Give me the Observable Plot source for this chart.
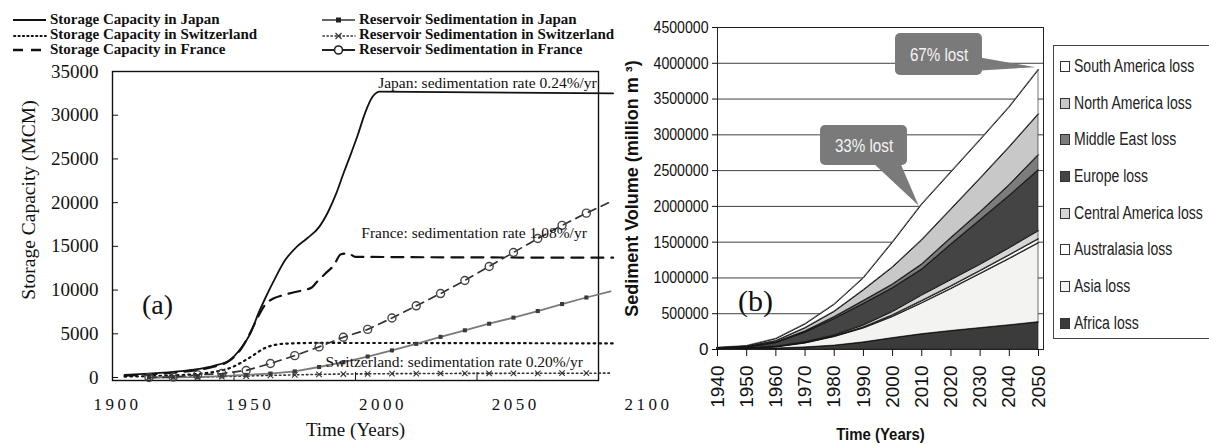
<!DOCTYPE html>
<html><head><meta charset="utf-8">
<script src="https://cdn.jsdelivr.net/npm/d3@7"></script>
<script src="https://cdn.jsdelivr.net/npm/@observablehq/plot@0.6"></script>
<style>
html,body{margin:0;padding:0;background:#fff;}
#wrap{position:relative;width:1209px;height:446px;overflow:hidden;background:#fff;}
#wrap > svg{position:absolute;top:0;}
.legA{position:absolute;font-family:"Liberation Serif","Times New Roman",serif;font-weight:bold;font-size:15px;color:#111;white-space:nowrap;line-height:15px;}
.legA svg{position:absolute;top:0;}
.legB{position:absolute;left:1053px;top:45px;width:170px;height:294px;border:1px solid #444;background:#fff;box-sizing:border-box;}
.legB .it{position:absolute;left:6px;font-family:"Liberation Sans",Arial,sans-serif;font-size:18px;color:#222;white-space:nowrap;line-height:20px;}
.legB .sw{display:inline-block;width:8px;height:9px;border:1px solid #333;margin-right:4px;vertical-align:0px;}
.legB .t{display:inline-block;transform:scaleX(0.78);transform-origin:left center;}
</style></head><body><div id="wrap"></div>
<script>
// ---------------- Panel (a) data ----------------
const jpStorageYears = [1905,1915,1925,1935,1942,1948,1953,1957,1960,1963,1967,1971,1976,1980,1985,1989,1992,1995,1998,2001,2004,2007,2010,2106];
const jpStorageMCM   = [300,450,650,950,1370,1950,3400,5200,7300,9150,11400,13400,15000,15900,17200,19100,21000,23300,25500,27800,30300,32100,32700,32500];
const chStorageYears = [1905,1920,1935,1942,1949,1956,1963,1970,1983,2106];
const chStorageMCM   = [100,200,400,650,1150,2200,3400,3850,3950,3900];
const frStorageYears = [1905,1915,1925,1935,1942,1948,1953,1957,1960,1963,1966,1970,1974,1978,1982,1984,1988,1991,1994,1997,2000,2106];
const frStorageMCM   = [200,350,550,850,1250,1900,3300,5300,7000,8400,9000,9400,9700,9950,10300,10900,12000,12800,14100,14200,13800,13700];
const sedYears = [1915,1925,1935,1945,1955,1965,1975,1985,1995,2005,2015,2025,2035,2045,2055,2065,2075,2085,2095,2105];
const jpSedMCM = [0,20,50,150,300,450,700,1200,1750,2400,3100,3850,4650,5400,6150,6850,7600,8400,9150,9850];
const chSedMCM = [0,20,50,100,170,240,300,360,400,420,440,450,460,470,470,480,480,490,490,500];
const frSedMCM = [0,50,300,450,800,1600,2500,3500,4600,5500,6800,8200,9600,11100,12700,14300,15900,17400,18800,20100];
const aXTicks = [1900,1950,2000,2050,2100];
const aYTicks = [0,5000,10000,15000,20000,25000,30000,35000];
const aNoteText = ["Japan: sedimentation rate 0.24%/yr","France: sedimentation rate 1.08%/yr","Switzerland: sedimentation rate 0.20%/yr"];
const aNoteYear = [2099.3,2095.2,2093.6];
const aNoteMCM  = [33630,16470,1716];
const aTag = ["(a)"], aTagYear = [1918.5], aTagMCM = [8235];

// ---------------- Panel (b) data ----------------
const bYears = [1940,1950,1960,1970,1980,1990,2000,2010,2020,2030,2040,2050];
const bYTicks = [0,500000,1000000,1500000,2000000,2500000,3000000,3500000,4000000,4500000];
const regions = ["Africa loss","Asia loss","Australasia loss","Central America loss","Europe loss","Middle East loss","North America loss","South America loss"];
const africaLoss      = [4000,8000,15000,30000,55000,100000,160000,215000,260000,300000,340000,383000];
const asiaLoss        = [4000,8000,20000,60000,125000,200000,300000,435000,590000,760000,930000,1107000];
const australasiaLoss = [1000,1000,3000,5000,8000,10000,20000,30000,35000,40000,50000,55000];
const centralAmLoss   = [1000,2000,4000,10000,12000,30000,50000,80000,90000,90000,100000,115000];
const europeLoss      = [5000,11000,53000,135000,230000,300000,330000,360000,495000,620000,730000,850000];
const middleEastLoss  = [2000,3000,8000,15000,25000,40000,50000,70000,90000,110000,150000,210000];
const northAmLoss     = [3000,7000,17000,45000,75000,150000,240000,340000,400000,470000,530000,570000];
const southAmLoss     = [5000,10000,30000,55000,100000,170000,350000,500000,520000,540000,560000,620000];
const regionSeries = [africaLoss,asiaLoss,australasiaLoss,centralAmLoss,europeLoss,middleEastLoss,northAmLoss,southAmLoss];
const regionFills = ["#3b3b3b","#f3f3f1","#ffffff","#d6d6d6","#444444","#7c7c7c","#c8c8c8","#ffffff"];
const calloutText = ["33% lost","67% lost"];
const calloutYear1 = [1975.3,2001.0], calloutYear2 = [2005.1,2030.8];
const calloutVol1 = [2571000,3829000], calloutVol2 = [3130000,4416000];
const calloutTextYear = [1990.2,2015.9], calloutTextVol = [2850000,4122000];
const pointerId   = [0,0,0,1,1,1];
const pointerYear = [1993.5,2002.7,2008.9,2030.0,2030.0,2049.0];
const pointerVol  = [2600000,2600000,2012000,4080000,3900000,3945000];
const bTag = ["(b)"], bTagYear = [1953], bTagVol = [671000];

const serif = '"Liberation Serif","Times New Roman",serif';
const sans = '"Liberation Sans",Arial,sans-serif';
const wrap = document.getElementById("wrap");

// squeeze a text horizontally about its anchor point (the source figure uses a condensed face)
function squeeze(t, k) {
  const tr = t.getAttribute("transform") || "";
  t.setAttribute("transform", tr + ` scale(${k},1)`);
}

// ---------------- Panel (a) chart ----------------
const lastSed = sedYears.map(y => y <= 2095);
const chartA = Plot.plot({
  width: 660, height: 446,
  marginLeft: 112, marginRight: 62, marginTop: 71, marginBottom: 66,
  x: {domain: [1900, 2100]},
  y: {domain: [0, 35000], insetBottom: 3},
  style: {background: "transparent", fontFamily: serif, fontSize: "18px", color: "#111", overflow: "visible", maxWidth: "none"},
  marks: [
    Plot.frame({stroke: "#111", strokeWidth: 1.4}),
    Plot.axisY({ticks: aYTicks, tickSize: -6, tickPadding: 20, tickFormat: "d", label: null, fontSize: 19, fontFamily: serif}),
    Plot.axisX({ticks: aXTicks, tickSize: -8, tickFormat: () => "", label: null}),
    Plot.line(chStorageMCM, {x: chStorageYears, y: chStorageMCM, curve: "monotone-x", stroke: "#111", strokeWidth: 2.2, strokeDasharray: "1.6,4.2", strokeLinecap: "round"}),
    Plot.line(frStorageMCM, {x: frStorageYears, y: frStorageMCM, curve: "monotone-x", stroke: "#111", strokeWidth: 2.2, strokeDasharray: "12,8"}),
    Plot.line(jpStorageMCM, {x: jpStorageYears, y: jpStorageMCM, curve: "monotone-x", stroke: "#111", strokeWidth: 1.8}),
    Plot.line(chSedMCM, {x: sedYears, y: chSedMCM, stroke: "#333", strokeWidth: 1.6, strokeDasharray: "1.5,3", strokeLinecap: "round"}),
    Plot.dot(chSedMCM, {x: sedYears, y: chSedMCM, filter: lastSed, symbol: "times", r: 2.6, stroke: "#333", strokeWidth: 1.1}),
    Plot.line(jpSedMCM, {x: sedYears, y: jpSedMCM, stroke: "#7a7a7a", strokeWidth: 1.8}),
    Plot.dot(jpSedMCM, {x: sedYears, y: jpSedMCM, filter: lastSed, symbol: "square", r: 2.3, fill: "#3a3a3a", stroke: "none"}),
    Plot.line(frSedMCM, {x: sedYears, y: frSedMCM, stroke: "#333", strokeWidth: 1.7, strokeDasharray: "8,6"}),
    Plot.dot(frSedMCM, {x: sedYears, y: frSedMCM, filter: lastSed, symbol: "circle", r: 4, fill: "none", stroke: "#444", strokeWidth: 1.4}),
    Plot.text(aNoteText, {x: aNoteYear, y: aNoteMCM, text: d => d, textAnchor: "end", fontSize: 15.5, fontFamily: serif, fill: "#111"}),
    Plot.text(aTag, {x: aTagYear, y: aTagMCM, text: d => d, fontSize: 28, fontFamily: serif, fill: "#111"}),
    Plot.text(["Storage Capacity (MCM)"], {frameAnchor: "left", textAnchor: "middle", rotate: -90, dx: -84, dy: -26, text: d => d, fontSize: 19.5, fontFamily: serif, fill: "#111"}),
    Plot.text(["Time (Years)"], {frameAnchor: "bottom", textAnchor: "middle", dy: 55, text: d => d, fontSize: 19, fontFamily: serif, fill: "#111"})
  ]
});
chartA.style.left = "0px";
wrap.appendChild(chartA);

// tick labels of panel (a), printed offset from the ticks as in the source figure
const labA = Plot.plot({
  width: 680, height: 446,
  marginLeft: 117, marginRight: 32, marginTop: 71, marginBottom: 66,
  x: {domain: [1900, 2100]},
  style: {background: "transparent", fontFamily: serif, color: "#111", overflow: "visible", maxWidth: "none"},
  marks: [Plot.axisX({ticks: aXTicks, tickSize: 0, tickPadding: 17, tickFormat: "d", label: null, fontSize: 17, fontFamily: serif})]
});
labA.querySelectorAll("text").forEach(t => t.setAttribute("letter-spacing", "3.5"));
labA.style.left = "0px";
wrap.appendChild(labA);

// legend (a)
const legItems = [
  {col: 0, row: 0, text: "Storage Capacity in Japan", kind: "solid"},
  {col: 0, row: 1, text: "Storage Capacity in Switzerland", kind: "dot"},
  {col: 0, row: 2, text: "Storage Capacity in France", kind: "dash"},
  {col: 1, row: 0, text: "Reservoir Sedimentation in Japan", kind: "sq"},
  {col: 1, row: 1, text: "Reservoir Sedimentation in Switzerland", kind: "x"},
  {col: 1, row: 2, text: "Reservoir Sedimentation in France", kind: "o"}
];
const rowY = [20, 35, 50];
const colX = [13, 322];
for (const it of legItems) {
  const d = document.createElement("div");
  d.className = "legA";
  d.style.left = colX[it.col] + "px";
  d.style.top = (rowY[it.row] - 8) + "px";
  let g = "";
  if (it.kind === "solid") g = '<line x1="0" y1="8" x2="33" y2="8" stroke="#111" stroke-width="2"/>';
  if (it.kind === "dot") g = '<line x1="1" y1="9" x2="33" y2="9" stroke="#111" stroke-width="1.8" stroke-dasharray="1.4,3" stroke-linecap="round"/>';
  if (it.kind === "dash") g = '<line x1="0" y1="8" x2="33" y2="8" stroke="#111" stroke-width="2.4" stroke-dasharray="10,8"/>';
  if (it.kind === "sq") g = '<line x1="0" y1="8" x2="33" y2="8" stroke="#666" stroke-width="2"/><rect x="14" y="5.5" width="5" height="5" fill="#222"/>';
  if (it.kind === "x") g = '<line x1="1" y1="9" x2="33" y2="9" stroke="#333" stroke-width="1.5" stroke-dasharray="1.4,2.6" stroke-linecap="round"/><path d="M13.5,6 L19.5,12 M19.5,6 L13.5,12" stroke="#333" stroke-width="1.2"/>';
  if (it.kind === "o") g = '<line x1="0" y1="8" x2="33" y2="8" stroke="#222" stroke-width="2.2"/><circle cx="16.5" cy="8" r="4" fill="#fff" stroke="#222" stroke-width="1.6"/>';
  d.innerHTML = '<svg width="34" height="16" style="left:0">' + g + '</svg><span style="position:absolute;left:37px;top:0">' + it.text + '</span>';
  wrap.appendChild(d);
}

// ---------------- Panel (b) chart ----------------
const rows = regions.flatMap((r, k) => regionSeries[k].map((v, i) => ({region: r, year: bYears[i], value: v})));
const chartB = Plot.plot({
  width: 453, height: 446,
  marginLeft: 117, marginRight: 10, marginTop: 27, marginBottom: 97,
  x: {domain: [1940, 2050], insetRight: 5},
  y: {domain: [0, 4500000]},
  color: {domain: regions, range: regionFills},
  style: {background: "transparent", fontFamily: sans, color: "#111", overflow: "visible", maxWidth: "none"},
  marks: [
    Plot.gridY({ticks: bYTicks, stroke: "#2a2a2a", strokeOpacity: 1, strokeWidth: 0.9}),
    Plot.areaY(rows, {x: "year", y: "value", z: "region", fill: "region", order: regions, stroke: "#1a1a1a", strokeWidth: 0.6}),
    Plot.lineY(rows, Plot.stackY2({x: "year", y: "value", z: "region", order: regions, stroke: "#151515", strokeWidth: 1})),
    Plot.frame({stroke: "#222", strokeWidth: 1}),
    Plot.axisY({ticks: bYTicks, tickSize: 5, tickPadding: 4, tickFormat: "d", label: null, fontSize: 17, fontFamily: sans}),
    Plot.axisX({ticks: bYears, tickSize: 7, tickPadding: 9, tickRotate: -90, tickFormat: "d", label: null, fontSize: 19, fontFamily: sans}),
    Plot.rect(calloutText, {x1: calloutYear1, x2: calloutYear2, y1: calloutVol1, y2: calloutVol2, rx: 5, fill: "#7a7a7a"}),
    Plot.line(pointerVol, {x: pointerYear, y: pointerVol, z: pointerId, fill: "#7a7a7a", stroke: "none"}),
    Plot.text(calloutText, {x: calloutTextYear, y: calloutTextVol, text: d => d, fill: "#f4f4f4", fontSize: 19, fontFamily: sans}),
    Plot.text(bTag, {x: bTagYear, y: bTagVol, text: d => d, fontSize: 30, fontFamily: serif, fill: "#111"}),
    Plot.text(["Sediment Volume (million m ³)"], {frameAnchor: "left", textAnchor: "middle", rotate: -90, dx: -85, text: d => d, fontSize: 18, fontWeight: "bold", fontFamily: sans, fill: "#111"}),
    Plot.text(["Time (Years)"], {frameAnchor: "bottom", textAnchor: "middle", dy: 90, text: d => d, fontSize: 17, fontWeight: "bold", fontFamily: sans, fill: "#111"})
  ]
});
chartB.querySelectorAll("text").forEach(t => {
  const s = t.textContent;
  if (/^\d+$/.test(s) && s.length > 4) squeeze(t, 0.83);
  else if (s.endsWith("lost")) squeeze(t, 0.8);
  else if (s === "Time (Years)") squeeze(t, 0.88);
});
chartB.style.left = "600px";
wrap.appendChild(chartB);

// legend (b)
const legB = document.createElement("div");
legB.className = "legB";
const legBOrder = regions.slice().reverse();
const legBRowY = [20, 57, 93, 130, 167, 203, 240, 277];
legBOrder.forEach((r, i) => {
  const it = document.createElement("div");
  it.className = "it";
  it.style.top = (legBRowY[i] - 10) + "px";
  const col = regionFills[regions.indexOf(r)];
  it.innerHTML = '<span class="sw" style="background:' + col + '"></span><span class="t">' + r + '</span>';
  legB.appendChild(it);
});
wrap.appendChild(legB);
</script></body></html>
